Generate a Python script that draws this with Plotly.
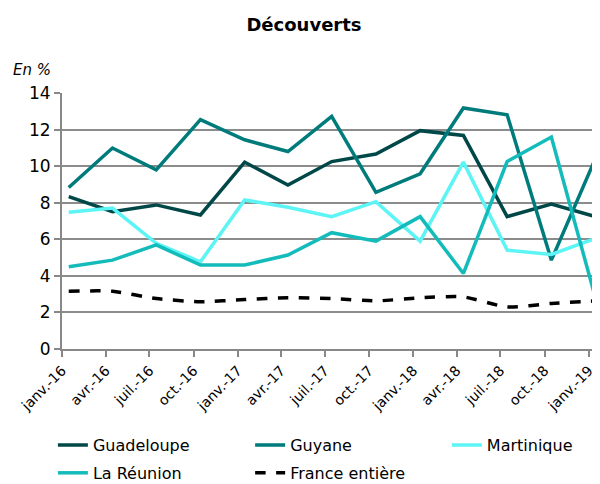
import plotly.graph_objects as go

# points sit mid-month, ticks on the 1st of each quarter
dates = ["2016-01-15", "2016-04-15", "2016-07-15", "2016-10-15",
         "2017-01-15", "2017-04-15", "2017-07-15", "2017-10-15",
         "2018-01-15", "2018-04-15", "2018-07-15", "2018-10-15",
         "2019-01-15"]
tick_dates = ["2016-01-01", "2016-04-01", "2016-07-01", "2016-10-01",
              "2017-01-01", "2017-04-01", "2017-07-01", "2017-10-01",
              "2018-01-01", "2018-04-01", "2018-07-01", "2018-10-01",
              "2019-01-01"]
tick_labels = ["janv.-16", "avr.-16", "juil.-16", "oct.-16",
               "janv.-17", "avr.-17", "juil.-17", "oct.-17",
               "janv.-18", "avr.-18", "juil.-18", "oct.-18",
               "janv.-19"]

guadeloupe = [8.33, 7.51, 7.88, 7.33, 10.22, 8.97, 10.25, 10.66, 11.94, 11.68, 7.24, 7.92, 7.24]
guyane = [8.83, 10.99, 9.80, 12.54, 11.44, 10.80, 12.72, 8.57, 9.58, 13.18, 12.81, 4.86, 10.44]
martinique = [7.48, 7.71, 5.78, 4.77, 8.15, 7.75, 7.24, 8.06, 5.90, 10.22, 5.41, 5.17, 6.05]
reunion = [4.50, 4.86, 5.69, 4.59, 4.59, 5.14, 6.36, 5.90, 7.24, 4.13, 10.25, 11.59, 2.76]
france = [3.16, 3.16, 2.76, 2.58, 2.71, 2.80, 2.76, 2.63, 2.80, 2.85, 2.30, 2.49, 2.63]

FONT = "DejaVu Sans"

fig = go.Figure()
# one legend per column so the three columns line up like the original
fig.add_trace(go.Scatter(x=dates, y=guadeloupe, name="Guadeloupe", mode="lines",
                         legend="legend", legendgroup="a",
                         line=dict(color="#004848", width=3.5)))
fig.add_trace(go.Scatter(x=dates, y=guyane, name="Guyane", mode="lines",
                         legend="legend2", legendgroup="b",
                         line=dict(color="#007B7B", width=3.5)))
fig.add_trace(go.Scatter(x=dates, y=martinique, name="Martinique", mode="lines",
                         legend="legend3", legendgroup="c",
                         line=dict(color="#5CF4F4", width=3.5)))
fig.add_trace(go.Scatter(x=dates, y=reunion, name="La Réunion", mode="lines",
                         legend="legend", legendgroup="d",
                         line=dict(color="#14BBBB", width=3.5)))
fig.add_trace(go.Scatter(x=dates, y=france, name="France entière", mode="lines",
                         legend="legend2", legendgroup="e",
                         line=dict(color="black", width=3.5, dash="dash",
                                   shape="spline", smoothing=0.6)))

leg = dict(orientation="v", xanchor="left", y=-0.309, yanchor="top",
           font=dict(family=FONT, size=16), tracegroupgap=4,
           bgcolor="rgba(0,0,0,0)")

# page body adds an 8px margin, so the figure is 8px smaller than the window
fig.update_layout(
    width=592, height=476,
    margin=dict(l=54, r=2, t=85, b=135, autoexpand=False),
    paper_bgcolor="white", plot_bgcolor="white",
    font=dict(family=FONT, size=14, color="black"),
    title=dict(text="<b>Découverts</b>", x=0.5, xanchor="center",
               y=0.964, yanchor="middle", font=dict(family=FONT, size=18)),
    showlegend=True,
    legend=dict(leg, x=-0.017),
    legend2=dict(leg, x=0.351),
    legend3=dict(leg, x=0.718),
    annotations=[dict(text="<i>En %</i>", xref="paper", yref="paper",
                      x=-0.095, y=1.045, xanchor="left", yanchor="bottom",
                      showarrow=False, font=dict(family=FONT, size=15))],
)

fig.update_xaxes(
    type="date", range=["2016-01-01", "2019-01-20"], automargin=False,
    tickmode="array", tickvals=tick_dates, ticktext=tick_labels,
    tickangle=-45, ticks="outside", ticklen=6, tickwidth=2, tickcolor="#888888",
    showgrid=False, showline=True, linecolor="#888888", linewidth=2,
    tickfont=dict(family=FONT, size=14),
)
fig.update_yaxes(
    range=[0, 14], dtick=2, ticks="outside", ticklen=6, tickwidth=2,
    tickcolor="#888888", showgrid=True, gridcolor="#8C8C8C", gridwidth=2,
    showline=True, linecolor="#888888", linewidth=2, zeroline=False,
    automargin=False, tickfont=dict(family=FONT, size=17),
)

fig.write_html("out.html")
